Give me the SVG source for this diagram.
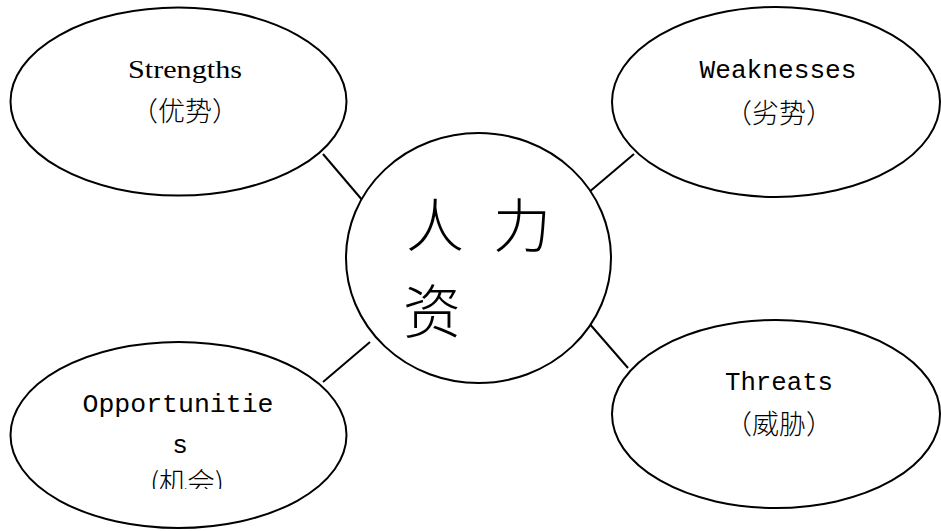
<svg xmlns="http://www.w3.org/2000/svg" width="941" height="531" viewBox="0 0 941 531">
<defs>
<style>
.shape{fill:#fff;stroke:#000;stroke-width:2}
.conn{stroke:#000;stroke-width:2;fill:none}
.serif{font-family:"Liberation Serif","Noto Sans CJK SC",serif;fill:#000}
.mono{font-family:"Liberation Mono","Noto Sans CJK SC",monospace;fill:#000}
.cjk{font-family:"Noto Sans CJK SC",sans-serif;fill:#000;font-weight:300}
</style>
<clipPath id="oclip"><rect x="0" y="330" width="360" height="159"/></clipPath>
</defs>
<rect width="941" height="531" fill="#fff"/>
<g id="connectors">
<line class="conn" x1="323" y1="154" x2="363" y2="201"/>
<line class="conn" x1="634" y1="154" x2="588" y2="193"/>
<line class="conn" x1="323" y1="382" x2="370" y2="342"/>
<line class="conn" x1="588" y1="322" x2="628" y2="368"/>
</g>
<g id="strengths">
<ellipse class="shape" cx="178.5" cy="101.5" rx="168" ry="94"/>
<text class="serif" x="185" y="78" font-size="26" text-anchor="middle" textLength="114" lengthAdjust="spacingAndGlyphs">Strengths</text>
<text class="cjk" x="185" y="121" font-size="27" text-anchor="middle" textLength="108" lengthAdjust="spacingAndGlyphs">（优势）</text>
</g>
<g id="weaknesses">
<ellipse class="shape" cx="776" cy="102" rx="164" ry="95"/>
<text class="mono" x="778" y="78" font-size="26" text-anchor="middle" textLength="157" lengthAdjust="spacingAndGlyphs">Weaknesses</text>
<text class="cjk" x="779" y="123" font-size="27" text-anchor="middle" textLength="108" lengthAdjust="spacingAndGlyphs">（劣势）</text>
</g>
<g id="center">
<ellipse class="shape" cx="478.5" cy="258" rx="132.5" ry="125"/>
<text class="cjk" font-size="58" y="247"><tspan x="406">人</tspan><tspan x="493">力</tspan></text>
<text class="cjk" font-size="58" x="403" y="333">资</text>
</g>
<g id="opportunities">
<ellipse class="shape" cx="178.5" cy="435" rx="168" ry="93"/>
<text class="mono" x="178" y="412" font-size="26" text-anchor="middle" textLength="191" lengthAdjust="spacingAndGlyphs">Opportunitie</text>
<text class="mono" x="180" y="453" font-size="26" text-anchor="middle">s</text>
<text class="cjk" x="187" y="493" font-size="28" text-anchor="middle" clip-path="url(#oclip)">(机会)</text>
</g>
<g id="threats">
<ellipse class="shape" cx="776" cy="414" rx="164" ry="94"/>
<text class="mono" x="779" y="390" font-size="26" text-anchor="middle" textLength="108" lengthAdjust="spacingAndGlyphs">Threats</text>
<text class="cjk" x="779" y="434" font-size="27" text-anchor="middle" textLength="108" lengthAdjust="spacingAndGlyphs">（威胁）</text>
</g>
</svg>
